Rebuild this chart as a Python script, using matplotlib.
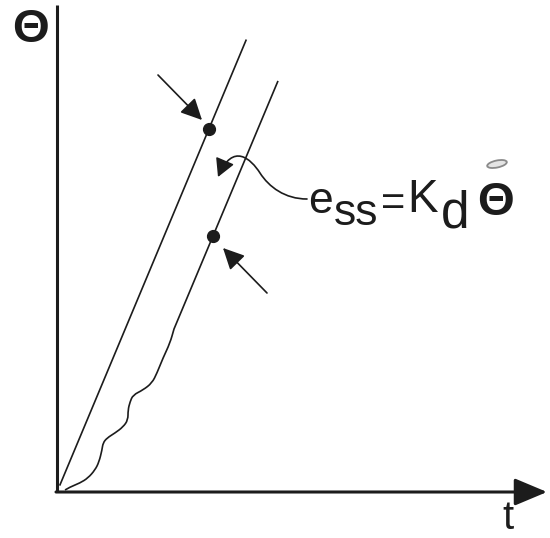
import matplotlib
matplotlib.use("Agg")
import matplotlib.pyplot as plt
from matplotlib.patches import FancyArrowPatch, Ellipse, PathPatch
from matplotlib.path import Path
import numpy as np

# --- ramp input and tracking response (drawing units) ---
ramp_rate = 2.39          # slope of the commanded ramp
lag = 49                  # steady-state time lag of the response
t_ref = [3, 189]          # span of the commanded ramp
t_resp_end = 221          # end of the straight response segment

# transient part of the response before it settles onto the ramp
trans_t = [8, 13, 23, 31, 38, 42, 45, 46, 50, 58, 66, 71, 71, 73, 76, 86,
           95, 100, 106, 113, 117]
trans_y = [2, 5, 9, 14, 22, 30, 42, 49, 54, 59, 65, 72, 82, 90, 97, 102,
           109, 119, 134, 149, 163]

# time instants of the two marked points
mark_t = [152, 156]

INK = "#1c1c1c"
FONT = "Liberation Sans"

fig = plt.figure(figsize=(5.5, 5.38), dpi=100)
ax = fig.add_axes([57 / 550, 46 / 538, 493 / 550, 492 / 538])
ax.set_xlim(0, 493)
ax.set_ylim(0, 492)
ax.axis("off")

# axes: plain vertical axis, horizontal axis with arrow head
ax.plot([0, 0], [0, 487], color=INK, lw=2.2, solid_capstyle="butt", clip_on=False)
ax.annotate("", xy=(490, 0), xytext=(-1, 0),
            arrowprops=dict(arrowstyle="-|>,head_length=1.0,head_width=0.42",
                            mutation_scale=20, lw=2.2, color=INK,
                            shrinkA=0, shrinkB=0),
            annotation_clip=False)

# commanded ramp
tr = np.array(t_ref, dtype=float)
ax.plot(tr, ramp_rate * tr, color=INK, lw=1.2)

# response: smooth quadratic spline through the transient points,
# continued as a straight line lagging the ramp
pts = np.column_stack([trans_t, trans_y]).astype(float)
verts = [pts[0]]
codes = [Path.MOVETO]
for i in range(1, len(pts) - 1):
    verts += [pts[i], (pts[i] + pts[i + 1]) / 2]
    codes += [Path.CURVE3, Path.CURVE3]
verts.append(pts[-1])
codes.append(Path.LINETO)
verts.append((t_resp_end, ramp_rate * (t_resp_end - lag)))
codes.append(Path.LINETO)
ax.add_patch(PathPatch(Path(verts, codes), facecolor="none",
                       edgecolor=INK, lw=1.2, joinstyle="round"))

# marked points
mt = np.array(mark_t, dtype=float)
ax.plot(mt[0], ramp_rate * mt[0], "o", color=INK, ms=8.5)
ax.plot(mt[1], ramp_rate * (mt[1] - lag), "o", color=INK, ms=8.5)

# pointer arrows onto the marked points
pointer = dict(arrowstyle="-|>,head_length=0.65,head_width=0.32",
               mutation_scale=20, lw=1.2, color=INK, shrinkA=0, shrinkB=0)
ax.annotate("", xy=(145, 372), xytext=(101, 417), arrowprops=pointer)
ax.annotate("", xy=(166, 244), xytext=(210, 199), arrowprops=pointer)

# curved leader from the label to the gap between the lines
lverts = [(250, 293), (228, 293), (212, 305), (203, 319),
          (194, 333), (176, 350), (161, 315)]
lcodes = [Path.MOVETO, Path.CURVE4, Path.CURVE4, Path.CURVE4,
          Path.CURVE4, Path.CURVE4, Path.CURVE4]
leader = FancyArrowPatch(path=Path(lverts, lcodes),
                         arrowstyle="-|>,head_length=0.55,head_width=0.3",
                         mutation_scale=20, lw=1.2, color=INK,
                         transform=ax.transData)
ax.add_patch(leader)

# label e_ss = K_d Theta-dot
txt = dict(color=INK, family=FONT, va="baseline", ha="left", clip_on=False)
ax.text(251, 279, "e", fontsize=32, **txt)
ax.text(277, 267, "ss", fontsize=32, **txt)
ax.text(324, 277, "=", fontsize=30, **txt)
ax.text(350, 280, "K", fontsize=33, **txt)
ax.text(384, 265, "d", fontsize=37, **txt)
ax.text(420, 277, "\u0398", fontsize=34, fontweight="bold", **txt)
ax.add_patch(Ellipse((440, 328), 20, 7, angle=12, facecolor="#e4e4e4",
                     edgecolor="#8a8a8a", lw=1.3, clip_on=False))

# axis names
ax.text(-45, 450, "\u0398", fontsize=34, fontweight="bold", **txt)
ax.text(445, -37, "t", fontsize=29, **txt)

fig.savefig("out.png", dpi=100, facecolor="white")
